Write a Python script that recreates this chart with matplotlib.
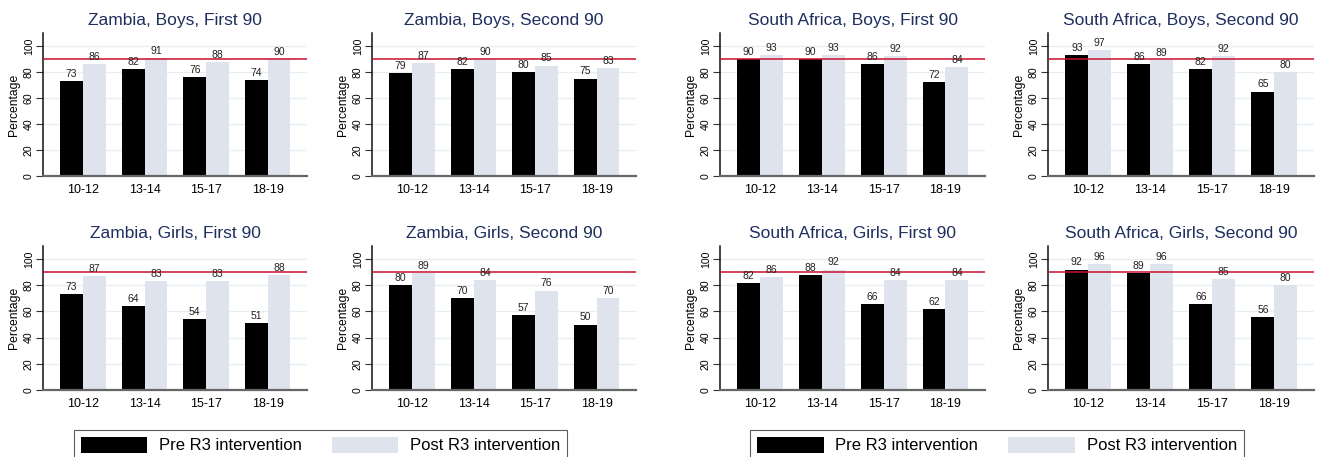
import matplotlib
matplotlib.use("Agg")
import matplotlib.pyplot as plt
from matplotlib.patches import Patch
import numpy as np

plt.rcParams['font.family'] = ['Liberation Sans', 'DejaVu Sans']

age_groups = ["10-12", "13-14", "15-17", "18-19"]

titles = [
    "Zambia, Boys, First 90", "Zambia, Boys, Second 90",
    "South Africa, Boys, First 90", "South Africa, Boys, Second 90",
    "Zambia, Girls, First 90", "Zambia, Girls, Second 90",
    "South Africa, Girls, First 90", "South Africa, Girls, Second 90",
]

pre = [
    [73, 82, 76, 74],
    [79, 82, 80, 75],
    [90, 90, 86, 72],
    [93, 86, 82, 65],
    [73, 64, 54, 51],
    [80, 70, 57, 50],
    [82, 88, 66, 62],
    [92, 89, 66, 56],
]
post = [
    [86, 91, 88, 90],
    [87, 90, 85, 83],
    [93, 93, 92, 84],
    [97, 89, 92, 80],
    [87, 83, 83, 88],
    [89, 84, 76, 70],
    [86, 92, 84, 84],
    [96, 96, 85, 80],
]
target = 90

W, H = 1322, 457
fig = plt.figure(figsize=(W / 100, H / 100), dpi=100)

col_px = [(43, 307), (372, 636), (720, 985), (1048, 1314)]
row_px = [(33, 176), (246, 390)]

black = "#000000"
light = "#dfe3ee"
title_col = "#1e2f5e"
red = "#c8102e"
bw = 0.37
x = np.arange(len(age_groups))

for i in range(8):
    r, c = divmod(i, 4)
    x0, x1 = col_px[c]
    y0, y1 = row_px[r]
    ax = fig.add_axes([x0 / W, 1 - y1 / H, (x1 - x0) / W, (y1 - y0) / H])

    for yy in [20, 40, 60, 80, 100]:
        ax.axhline(yy, color="#e6eef1", lw=0.9, zorder=0)

    b1 = ax.bar(x - bw / 2, pre[i], bw, color=black, zorder=2)
    b2 = ax.bar(x + bw / 2, post[i], bw, color=light, zorder=2)
    ax.axhline(target, color=red, lw=1.1, zorder=3)

    for bars, vals in [(b1, pre[i]), (b2, post[i])]:
        for rect, v in zip(bars, vals):
            ax.annotate(str(v), (rect.get_x() + rect.get_width() / 2, v),
                        xytext=(0, 1.5), textcoords="offset points",
                        ha="center", va="bottom", fontsize=7.5, color="#222222",
                        zorder=4)

    ax.set_xlim(-0.65, 3.64)
    ax.set_ylim(0, 110)
    ax.set_xticks(x)
    ax.set_xticklabels(age_groups, fontsize=9)
    ax.set_yticks([0, 20, 40, 60, 80, 100])
    ax.set_yticklabels(["0", "20", "40", "60", "80", "100"], fontsize=7.6,
                       rotation=90, va="center")
    ax.tick_params(axis="x", length=0, pad=6)
    ax.tick_params(axis="y", length=5, width=0.8, color="#333333", pad=1.5)
    ax.set_ylabel("Percentage", fontsize=8.7, labelpad=3)
    ax.set_title(titles[i], fontsize=12.5, color=title_col, pad=6)

    for s in ["top", "right"]:
        ax.spines[s].set_visible(False)
    ax.spines["left"].set_color("#111111")
    ax.spines["left"].set_linewidth(1.1)
    ax.spines["bottom"].set_color("#666666")
    ax.spines["bottom"].set_linewidth(1.6)

handles = [Patch(facecolor=black, edgecolor="none"),
           Patch(facecolor=light, edgecolor="none")]
labels = ["Pre R3 intervention", "Post R3 intervention"]
for cx in [320.5, 997]:
    leg = fig.legend(handles, labels, loc="upper center",
                     bbox_to_anchor=(cx / W, 1 - 430 / H), ncol=2,
                     fontsize=12, frameon=True, fancybox=False,
                     handlelength=4.0, handleheight=1.1, handletextpad=0.7,
                     columnspacing=1.8, borderpad=0.4, borderaxespad=0)
    leg.get_frame().set_edgecolor("#333333")
    leg.get_frame().set_linewidth(0.8)

fig.savefig("out.png", dpi=100)
